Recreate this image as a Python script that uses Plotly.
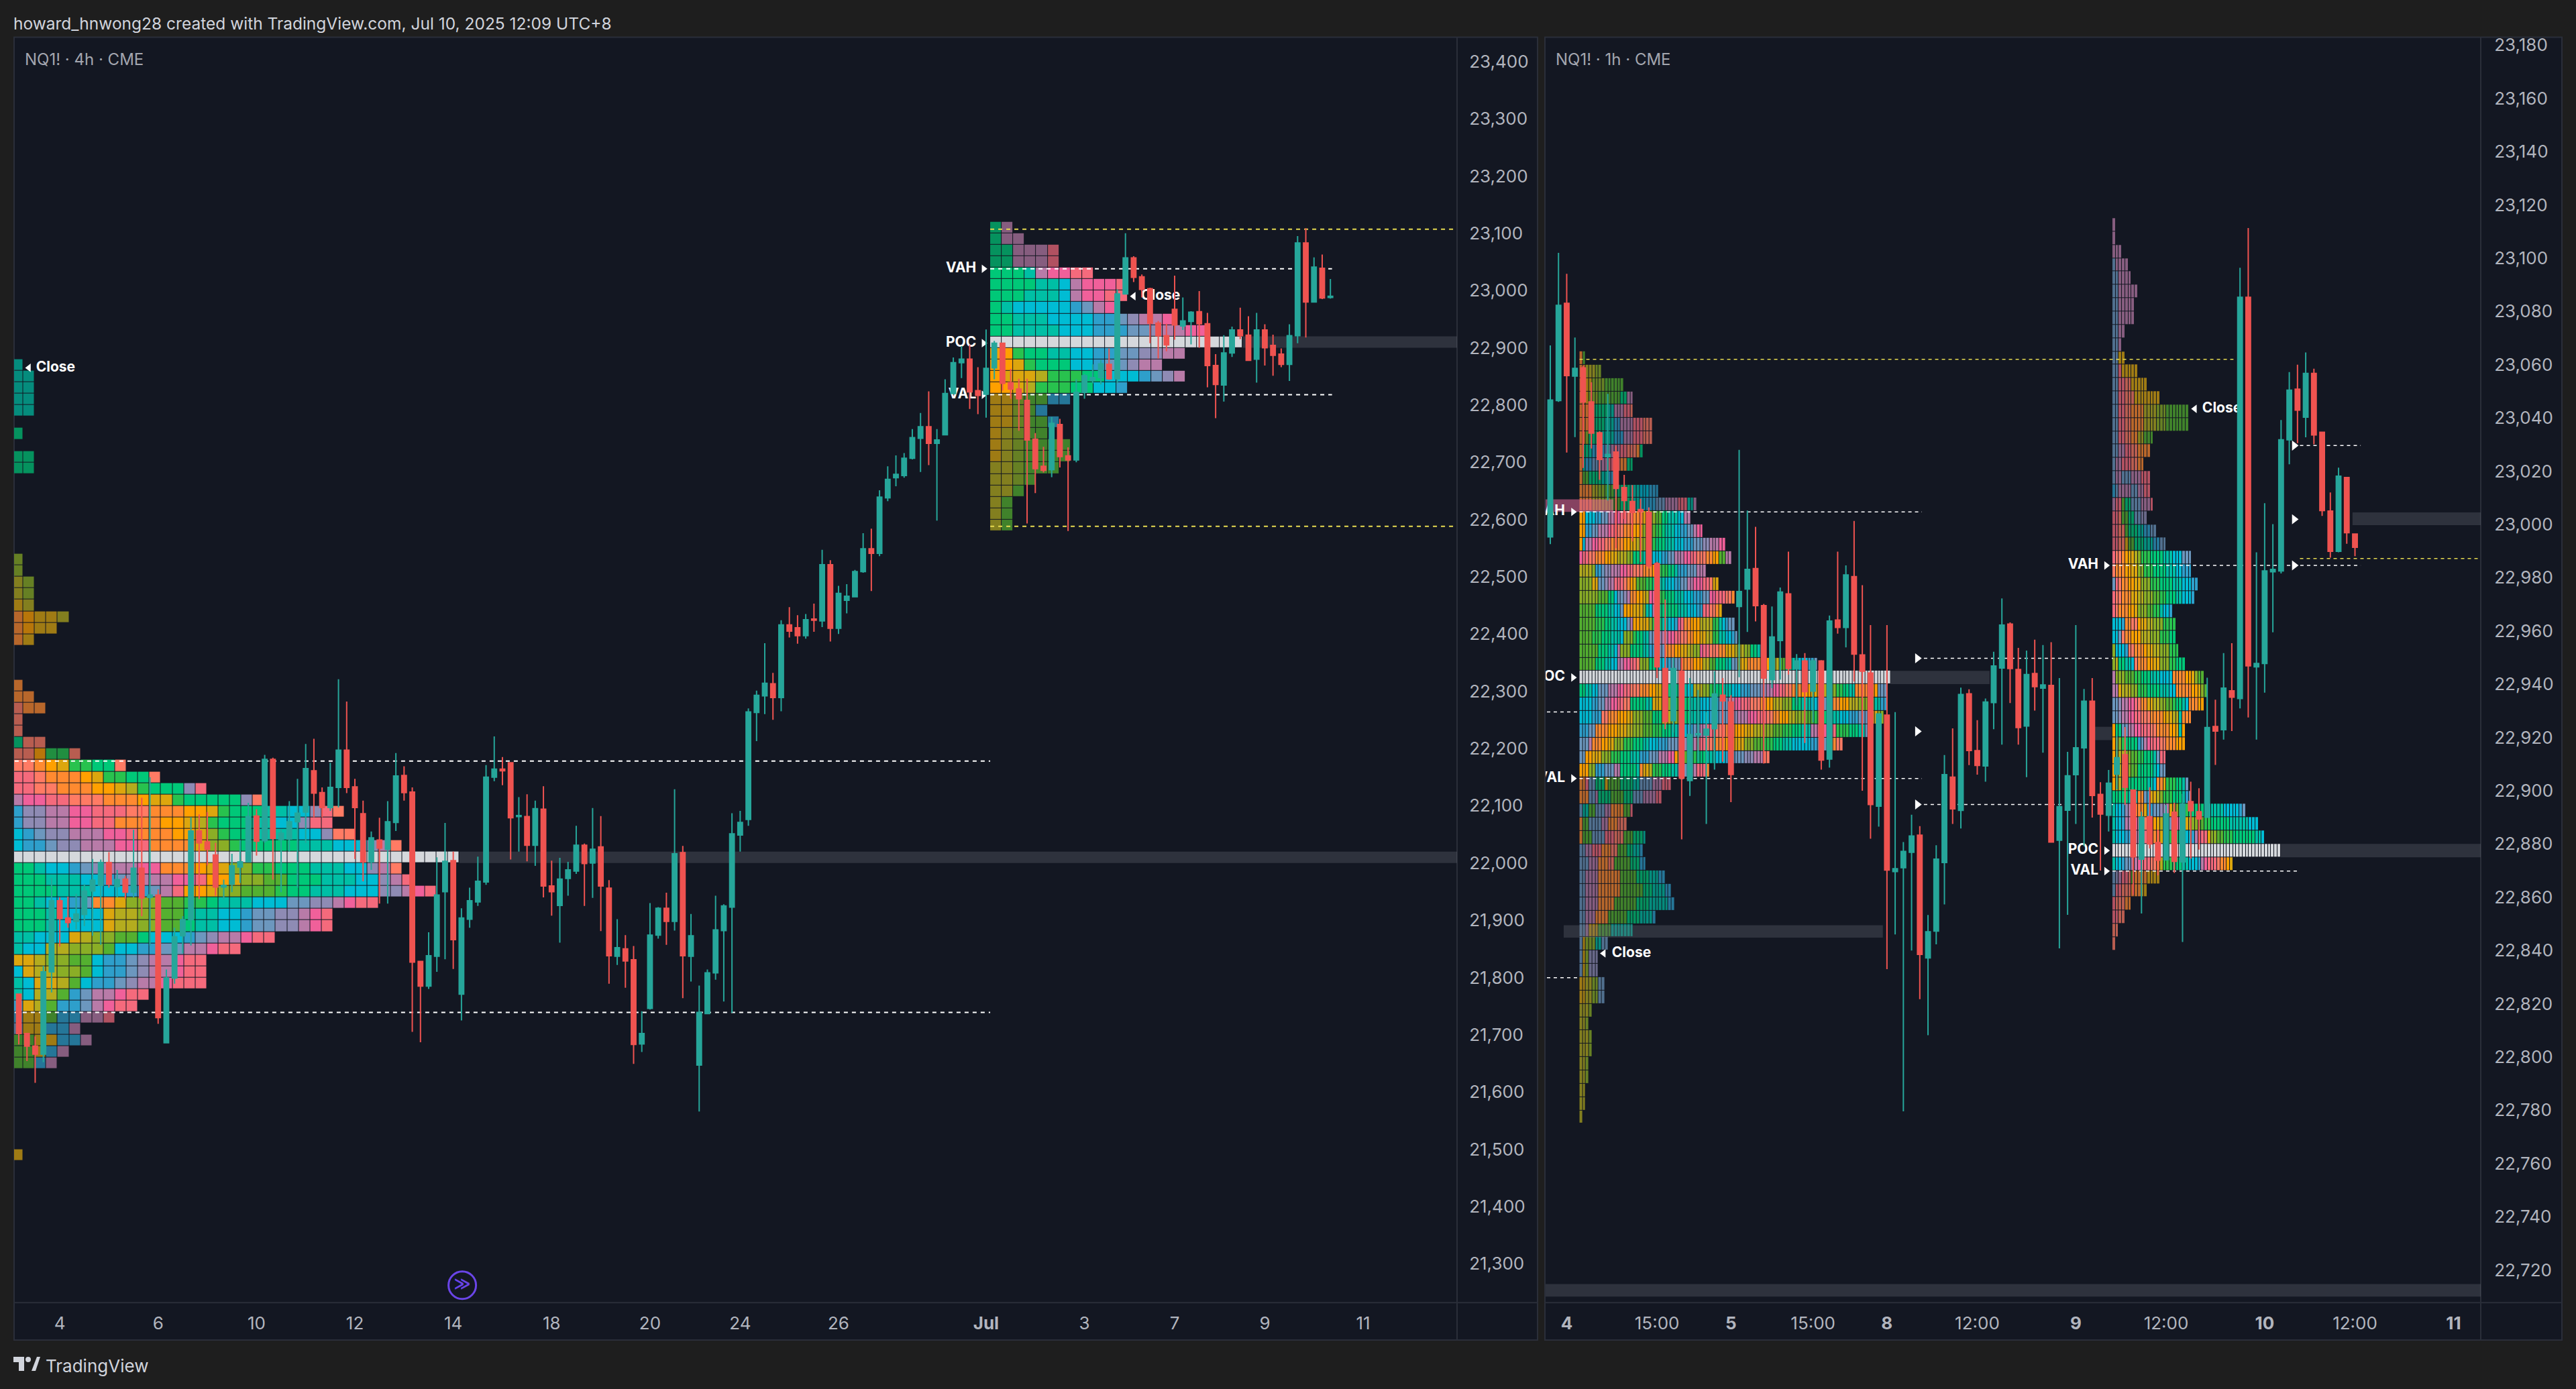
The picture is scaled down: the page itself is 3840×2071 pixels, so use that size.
import re
import plotly.graph_objects as go

W, H = 3840, 2071
BG = "#131722"
PAPER = "#1E1E1E"
UP = "#26A69A"
DOWN = "#EF5350"

# ---------- 4h chart candles ----------
L_DIR = ("rrrggrrggg" "grgrgrgrgg" "ggrrrggggr" "grggggrrgg" "rrrgrggrrr"
         "gggrgggggr" "rgrgrrgggr" "grrgrrgggr" "grgggggggg" "ggrgrrgrgr"
         "gggg" "rggggg" "grgggg" "rrggrrrrrr" "grrggggrgg" "rrrrrrggrr" "rgg" "rrgrrrgg" "rgrg")
L_TOP = [21771,21702,21680,21810,21934,21934,21904,21911,21951,21970,
         22001,22001,21971,21972,21991,21991,21944,21944,21799,21871,
         21901,22056,22056,22037,22014,21961,21995,22002,22081,22082,
         22181,22181,22052,22072,22087,22165,22161,22123,22132,22197,
         22197,22133,22086,22044,22040,22072,22152,22153,22124,21828,
         21838,21944,22003,22004,21904,21934,21968,22150,22164,22164,
         22175,22083,22081,22095,22094,21960,21972,21988,22031,22031,
         22024,22028,21956,21852,21850,21831,21702,21874,21921,21921,
         22016,22018,21873,21739,21808,21883,21925,22051,22071,22264,
         22293,22314,22313,22416,22416,22411,22425,22426,22521,22521,
         22471,22466,22509,22549,22549,22639,22670,22679,22707,22743,
         22762,22762,22739,22820,22874,22880,22880,22825,22864,22908,
         22908,22839,22828,22808,22740,22693,22768,22766,22711,22822,
         22851,22848,22872,22871,22994,23057,23057,23024,23003,22943,
         22921,22967,22947,22962,22963,22942,22869,22891,22931,22931,
         22922,22931,22931,22904,22889,22921,23083,23083,23041,23039,22990]
L_BOT = [21702,21680,21666,21666,21810,21903,21896,21898,21910,21951,
         21961,21963,21959,21949,21949,21939,21940,21730,21686,21799,
         21873,21901,22035,22024,21958,21958,21963,21993,22002,22038,
         22039,22043,22041,22042,22072,22089,22122,22097,22097,22132,
         22132,22097,22002,22002,22026,22024,22071,22123,21827,21785,
         21785,21837,21950,21866,21771,21902,21932,21967,22150,22161,
         22079,22081,22031,22031,21960,21950,21926,21973,21986,21999,
         22000,21960,21838,21837,21829,21683,21684,21746,21874,21898,
         21898,21838,21837,21647,21737,21808,21882,21923,22049,22076,
         22263,22292,22289,22289,22405,22397,22397,22424,22423,22410,
         22410,22459,22465,22509,22541,22541,22638,22673,22677,22707,
         22742,22733,22733,22748,22820,22874,22823,22817,22819,22865,
         22838,22828,22811,22739,22689,22686,22687,22710,22704,22704,
         22822,22843,22848,22846,22846,22994,23023,23002,22943,22921,
         22905,22940,22938,22946,22942,22869,22836,22835,22891,22921,
         22878,22880,22900,22887,22871,22871,22921,22980,22980,22987,22988]
L_HIGH = [21772,21703,21697,21820,21974,21940,21941,21946,21963,22007,
          22006,22019,21988,21977,22058,22114,22150,21954,21814,21887,
          21907,22080,22085,22089,22035,21971,22016,22040,22105,22094,
          22189,22184,22058,22108,22147,22208,22217,22132,22175,22321,
          22282,22147,22109,22055,22079,22108,22192,22169,22132,21829,
          21879,22010,22070,22020,21921,21957,22011,22171,22221,22185,
          22175,22115,22120,22109,22134,22004,22009,22002,22065,22034,
          22096,22082,21970,21902,21874,21855,21741,21930,21923,21948,
          22129,22030,21911,21786,21814,21943,21928,22087,22091,22270,
          22301,22384,22332,22424,22447,22433,22435,22453,22547,22529,
          22484,22487,22512,22576,22584,22651,22693,22712,22716,22758,
          22786,22824,22758,22845,22883,22903,22905,22866,22932,22912,
          22908,22863,22846,22846,22751,22727,22779,22776,22726,22845,
          22854,22871,22879,22899,23002,23100,23060,23028,23005,22947,
          22942,23026,22988,22964,22999,22961,22889,22922,22937,22970,
          22955,22961,22941,22923,22899,22941,23095,23109,23058,23063,23020]
L_LOW = [21683,21654,21616,21652,21774,21854,21887,21884,21890,21873,
         21857,21957,21940,21937,21940,21907,21856,21719,21685,21789,
         21842,21856,21937,21996,21943,21937,21949,21965,22001,22013,
         22035,21971,21949,22020,21957,22035,22080,22080,22091,22097,
         22122,22007,21968,21988,21929,21929,22056,22109,21705,21687,
         21780,21810,21832,21815,21725,21887,21925,21962,22143,22136,
         22006,22020,22003,21995,21940,21908,21861,21943,21981,21925,
         21939,21881,21789,21822,21782,21649,21670,21744,21868,21857,
         21882,21764,21793,21566,21736,21796,21758,21738,22020,22065,
         22213,22260,22250,22265,22394,22383,22392,22404,22412,22387,
         22400,22436,22465,22507,22475,22536,22632,22658,22673,22705,
         22683,22695,22598,22748,22819,22847,22793,22784,22778,22845,
         22825,22811,22755,22593,22646,22682,22674,22691,22580,22700,
         22811,22838,22836,22844,22838,22993,23015,22988,22908,22881,
         22894,22914,22931,22906,22900,22831,22777,22806,22884,22915,
         22878,22839,22869,22851,22866,22842,22908,22918,22979,22985,22986]

# ---------- 1h chart candles ----------
R_DIR = ("ggrgrrrgrr" "rrrrrgrggg" "grrggrrggr" "grgrgrgrrr" "grgggrgggr"
         "grrgggrrgr" "grggggrrgg" "rrgrrgrgrr" "grgrgrgggg" "grgrrrgrr")
R_TOP = [23046.7,23082.3,23083,23058.6,23058.8,23046,23034.4,23026.3,23027.2,23013.8,
         23008.6,23005.6,23004.5,22985.3,22945.9,22945.9,22944.9,22921.1,22921.4,22923.1,
         22936.3,22935.9,22933.3,22974.8,22983.1,22983.4,22969.5,22957.7,22974.6,22973.9,
         22948.7,22948.7,22948.7,22948.7,22963.7,22964.1,22981,22980.4,22951,22944.2,
         22928.8,22928.4,22870.7,22877.2,22883,22883.3,22847,22874.3,22906,22905.1,
         22936.1,22936.4,22915,22933.3,22946.8,22962.2,22962.6,22945.5,22943.6,22944,
         22939.7,22939.5,22894,22905.6,22916.1,22933.6,22933.6,22898.6,22902.8,22912.4,
         22913.5,22900.2,22890,22890.2,22880.5,22891.3,22891.9,22895,22895.9,22892.1,
         22923.7,22924.1,22938.5,22937.5,23085.3,23085.3,22947.8,22982.5,22983.1,23031.8,
         23050.4,23050.8,23056.7,23056.7,23034.6,23005,23018.1,23017.6,22996.4]
R_BOT = [22995.3,23046.5,23055.9,23055.7,23046,23034.3,23024.4,23025.4,23013.5,23009,
         23004.5,23004.8,22984.4,22946.5,22926,22926.3,22904.7,22903.8,22921,22920.9,
         22923.3,22933.7,22906.1,22969.2,22975.7,22969.5,22942.3,22941.7,22956.4,22945.9,
         22945.9,22937.2,22937.4,22911.5,22911.9,22961.3,22961.3,22951.3,22944.9,22894.8,
         22894.2,22870.2,22869.6,22871.1,22876.9,22838.5,22837.2,22847.3,22873,22893.2,
         22892.6,22915.1,22909.5,22909.3,22933.1,22946.1,22945.9,22923.7,22924.3,22939.1,
         22938.5,22880.7,22881.4,22892.7,22906,22916.1,22898.2,22891.2,22890.8,22906.2,
         22901.3,22875.2,22874.3,22880,22873.9,22874.1,22873.5,22873.3,22892.5,22889.4,
         22890,22922.4,22922.9,22935.1,22934.6,22946.9,22946.5,22947.8,22982.2,22982.5,
         23031.8,23042.9,23040.3,23033.6,23005.2,22989.9,22989.9,22996.9,22991.4]
R_HIGH = [23067.2,23102,23094.1,23070.2,23059.5,23053.4,23035,23049,23029.5,23018.6,
          23014.8,23009.7,23006.4,22985.9,22971.8,22950,22950,22942.3,22937.8,22929.5,
          22944.9,22942.3,22935.9,23028,23005.2,22999.1,22970.1,22969.2,22976.3,22989.8,
          22951.3,22951.7,22949.4,22949,22965.8,22989.8,22984.6,23001.3,22977.2,22962.2,
          22929,22962.2,22929.5,22880.7,22891,22886.7,22853.3,22879.5,22913.4,22923.4,
          22938.7,22938.1,22926.5,22934.6,22952.2,22972.2,22963.2,22953.6,22952.6,22956.7,
          22954.7,22955.8,22942.3,22914.6,22962.2,22938.2,22942.3,22903.2,22907.8,22920.6,
          22923.9,22900.5,22892.1,22901.3,22885.4,22894.6,22895.5,22898.8,22903.4,22900.9,
          22942.4,22934.2,22951.7,22955.4,23096.4,23111.3,22989.5,23008,23000.1,23039.2,
          23057.2,23060,23064.6,23058.5,23034.8,23012,23021.3,23017.8,22996.6]
R_LOW = [22992.6,23046,23027,23032.8,23021.2,23028.5,23016.7,23009,22991.1,23002,
         22993.6,22985.9,22983.4,22942.3,22923.1,22921.8,22881.7,22898,22910.9,22887.5,
         22907.9,22910.9,22895.7,22942.6,22959.6,22963.6,22910.2,22938.5,22941.7,22943.6,
         22932,22917.9,22925.6,22907.9,22908.7,22959,22953.8,22941,22900,22882,
         22886.5,22833,22846,22779.6,22840,22821.7,22808.2,22842.3,22857.3,22887.5,
         22885.8,22909.6,22906,22903.4,22923.1,22917.3,22932.9,22917.3,22905.1,22930.1,
         22914.3,22880.7,22840.8,22853.4,22887.5,22879.2,22889.9,22870,22884.7,22900.5,
         22894.6,22860.8,22853.9,22878.3,22868.2,22873.7,22869.1,22843.2,22874.5,22877.9,
         22890,22909.7,22919.2,22922.4,22930.9,22927.5,22919.2,22936.8,22959.5,22981.6,
         23022.6,23030.5,23032.7,23030.1,23003.2,22987.5,22989.5,22992.7,22988.1]

# ---------- volume profile colours: one letter per block, upper = value area, lower = dimmed ----------
PALETTE = {"G": "#00C878", "T": "#00BFA5", "C": "#00BCD4", "B": "#2E9FCB", "S": "#6C97BE",
           "V": "#8E8BB4", "M": "#B87BA8", "P": "#F0609A", "R": "#F56A7C", "K": "#FF7B64",
           "O": "#FF8A30", "A": "#FFA000", "Y": "#DCA60E", "L": "#B4AC1E", "H": "#8AAE26",
           "J": "#54B030", "E": "#28C24E", "W": "#D5D8DC"}

P1_PRICES = [22870, 22850, 22830, 22810, 22790, 22750, 22710, 22690, 22530, 22510, 22490, 22470, 22450,
             22430, 22410, 22390, 22310, 22290, 22270, 22250, 22230, 22210, 22190, 22170, 22150, 22130,
             22110, 22090, 22070, 22050, 22030, 22010, 21990, 21970, 21950, 21930, 21910, 21890, 21870,
             21850, 21830, 21810, 21790, 21770, 21750, 21730, 21710, 21690, 21670, 21650, 21490]
P1_ROWS = ["t", "tt", "tt", "tt", "tt", "g", "gg", "gg", "h", "h", "lh", "lh", "yl", "oayyl", "oayy", "oy",
           "o", "oo", "koo", "k", "k", "gkk", "kkaeek",
           "KKOAYEEGGK", "RRKOOOAYEEGGK", "RRKKOOOAAYLEGGGVR", "MPPRRKKKOOOAYYEGGGGGVK",
           "BVVMMPPRRRKKOOOAAYEGGGTTCCVRK", "BVVMMPPRROOOOAAYLEGGGTTCCVRR",
           "CBSVVMMMPPROOOAAYHEGGTTTTCCVKK", "CBBSVVMMMPPROOOOYHHEGGGGGTTTCCCVMK",
           "W" * 39, "GGTCCBSVMMMPPOOOAYYHHEEGGGTTTCCVMK", "GGGTTTCCBSVMMMPPRAAYHHJJGGGTTTCCVMR",
           "GGGGTTTCCCBBSMRAAYHHJJJEGGTTTCCCVVMPR", "GGTCCBSOOYHHHJJEEGTTTCCCSSVVMPRR",
           "GGGTCCCCYLLHHJJGTTCCBSSVVMPR", "GGGTCCCCYLLHHJJGTTCCBSSVVMPR", "TTCCCYLHHJJGCCCBSVMMPRR",
           "TCCLLHHHJCCBBSSMMPRR", "YYLHHJJCBBSVMMPRR", "CYLLHHJCBBSVMMPRR", "TCYYLJCBBSVMMPRRR",
           "TCLLJBSMMPRR", "BYLJBBSMPRR", "byyjbbmmr", "syybbm", "jjyybbm", "jjybm", "jjbm", "y"]

P2_PRICES = [23110, 23090, 23070, 23050, 23030, 23010, 22990, 22970, 22950, 22930, 22910, 22890, 22870,
             22850, 22830, 22810, 22790, 22770, 22750, 22730, 22710, 22690, 22670, 22650, 22630, 22610, 22590]
P2_ROWS = ["gm", "gmm", "ggmmmr", "ggmmmr", "GGGTMPPRR", "GGGGTTCMPPPR", "GGGTTTCMPPRR", "GTCCCCCBSMP",
           "GGTTTCCCCBBSVMMP", "GGTTTTCCCBBBSSVMMPP", "W" * 22, "AAEGGTTCCBBSSVVMM", "AAYEGGGCCBSSVMM",
           "AYYYLEEEGGCCCBSVM", "AAYLEEEGGCCB", "yyhjjbb", "yyhjb", "yyhjjb", "ylhjj", "ylhjjjj", "ylhjjjj",
           "llhjjj", "llhj", "llj", "lj", "lj", "lj"]

P3_PRICES = [23062.5 - 5 * k for k in range(58)]
P3_ROWS = ["o1j1", "o2l3h2", "o2y2h4j6", "o2y1h3j7g2m2", "o3g6t2m3r2k1", "o3g5t3b2m4r3k3", "o2h1g4t4b3m3r3k3",
           "o1g2t1b4s2m3r2k3o1g1", "o1t1b2s3m2r2k2o2g2", "o1j2g4t2b2", "o4l2h2j3g5t3c3b3",
           "o4l3h3j3g4t2c2b3s3m4r3t2m1",
           "A2C3B2S2M2P2R2K2O3Y2H2J2G2T3C2M2", "A2B2S2M3P1R2K2O3A2Y1H2J2E2G1T3C2B2S2M1P2",
           "A1C1M2P2R2K2O4A2Y2L2H2E2G3T3C3B3S3V2M3P2", "P1R2K2O3A2Y2L3H2G3T3C3B2S2M3P2R2K3O2A2J2M2",
           "L4H1B2S1V2M3P2R2K3O3A2E3G2T1B3S3M3", "H4Y2S2V1M2R3K1O1A1Y1J3E2G2T2C3B2S2M2P3R2K1Y2",
           "H6J3G2C1S2V1M1O2A2Y1L1P2R1E2G3T3C3B3S2P2R3K2O1", "J5G4T2C2S1A3Y3H1T1C1M1P1G6T3C3B2R2K2O1Y1",
           "J5E3G2T2C3S1M1A2Y3H1E1G2T2C2B1P1R1O2A3L4E2T1C1B1S2", "J4E3G3T3C1H3E1G2T2S2V2M2P2R2K2O2A2Y2L2E2T2C2B1S1",
           "J6G3T2C1M1H3G4T2B3S2O3A2Y2L2H2P1R2K3O2Y3L3H2G2T1S1",
           "J5G3T2C2M2P2R2K1H3G3C2B2S3O4A3L2J2G3T2S2Y3O4A4L2J2G2T2C3B2S1",
           "W98", "G2T2C2S3M3P2R2K3O3A2Y2H2G3T3C2L3H2E2G2T3C3B3S3V2M2P2R2K2O3A3Y3L3H2E2G2T2O4A3S3",
           "C4B2S2M2P2R2K2G5T2Y3H3E3G3T3C3B3S3M2P2R3K3O2A2L3H3G3T3C2B2S3O2A3L3H3E2T2B2",
           "C4B3K2O3A3Y2H3J3G3L3H3G3T3C3B3S3V3M3P3R3K2O2A3L2H3J3E3G2T3C3B3S3Y3H2",
           "B3S2O4A3Y3L2H3J3E3G3T2C3B2S2M2R3K3O3A3Y3L3H3J3E3G3T3M2P3R3E4G3T2S1",
           "S3M1O3A2Y2H3E3G3T2C3B3S3V3M3R3K3O3A3Y3H3J3E3G3T3C3C3B3S3O2K2",
           "S2A2Y3H3E3G3T3B3S3M3P2A1H2J2E2G3T3C3B3S3V3M3K2", "A3H2B3S3M2G5T1O1Y2L1E3G3T2S3M3R3O1",
           "o2r1s2g3y1j4g4t2s4m3r3", "o3s2m1g4j4g3s3m4r2", "s1t2j2s3m2o4j2r1", "o1j2s4m2o3k3", "o1j3s4r3k3j3g3t1",
           "s2m2r3o3k2j3g2t2b1", "s3m3o3k2j5g3b2", "s2m4o7j5g4t3b2", "s2m4o7j7g3t4b2", "s2m4o5j7g4t6b2",
           "s2m3o4j6g4t4b1", "s2m1y3j4t7", "s1y1h3t2s2", "s1y1h1v3", "s1y1h1v3", "y2l2h2s2", "y2l2h2s2",
           "l3h1", "l2h1", "l3h1", "l3h1", "l2h1", "l2h1", "l2", "l2", "l1"]

P4_PRICES = [23112.5 - 5 * k for k in range(55)]
P4_ROWS = ["m1", "m1", "m3", "s1m4", "s2m4", "s2m6", "s2m5", "s2m5", "s2m2", "s2m1", "s2y2", "s2r1y5",
           "s2r2k2y5", "s2r2k3y8", "s2r2k2o4l4h3j7", "s2r2k2o4l4h3j7", "s2r2k2o2l2j3", "s2m2r2k2o4",
           "s1m2r3k2o2", "s1m2s3m3r3", "b1s1m4s2m2r2", "m1r2j1g2s3m3r1", "r2k1j2g2s2v2", "r2k2j1g3t2b2s2",
           "r2k2y1j2g3t3b2s2",
           "R1K2O1A1Y2L1H1E3G4T3C3S3", "K1O3A2Y2H2E3G4T3C2B3", "S1R1K1O2A2Y2H3E3G4T3C3B2",
           "R1K2O3Y2L2H3J2E2G3T2C3B1", "R1K1O3A2Y1H3J2E2T1C2B1", "C3B1O2K2A1Y2L2H3E4", "C2S1K1O2A3L3H3E3G2",
           "H1C3B1K2O3A1Y2L2H3E3", "H1L1G2T2C1K1O3A2Y2H3E2G3", "M1H3J3E2G3T3C4O4A2Y1H1J2",
           "M2Y1L3H2E3G4T3C2O5A2Y1H1J1", "S2V1M2P2R1K1O2Y2L2H2J2E1G2T1C1O3A2", "S2V1M2P2R2K3O4A1Y2L2T1O3",
           "A1G2S2M2P2R3K2O4A2Y1T1A1", "A1Y1H1E1G4B1S1M1P1R3K2O3A3", "A1L3H2J2E2G3T1S1R2", "A1L3H2J2G5T1C1S2",
           "A1L2E2G6T2C1O2Y1E3G2T1S1", "G5T3O2S1B1Y2L1H1E3G3T1B1S1",
           "T1C2B1V1M1R1O3Y1B2S2V2M1Y1H2E3G6T5C5B1S1",
           "T1C2B1M2P2R2K1O2A1Y1L2B1S1M1P2A1Y1L1H2J2E2G6T6C3",
           "T1C3B2S1M1P2R2K1O2Y1H1E2G3T1C2B1M1P1R2Y1H2J2E3G7T2C1",
           "W53", "T1C2B1S2M2P1R3K2O1L1E3G3T2C3B1M1P1R3K1O2A1Y1", "s1v1m1r2k1j1o4y4", "s1r2k3o3y2", "r1k3o2",
           "r2k2", "k2", "k1"]

# ---------- levels ----------
L_X_TICKS = [5, 17, 29, 41, 53, 65, 77, 88, 100, 118, 130, 141, 152, 164]
L_X_LABELS = ["4", "6", "10", "12", "14", "18", "20", "24", "26", "<b>Jul</b>", "3", "7", "9", "11"]
R_X_TICKS = [2, 13, 22, 32, 41, 52, 64, 75, 87, 98, 110]
R_X_LABELS = ["<b>4</b>", "15:00", "<b>5</b>", "15:00", "<b>8</b>", "12:00", "<b>9</b>", "12:00", "<b>10</b>",
              "12:00", "<b>11</b>"]
L_Y_TICKS = list(range(21300, 23401, 100))
R_Y_TICKS = list(range(22720, 23181, 20))


def px_x(v):
    return v / W


def px_y(v):
    return 1 - (v - (3.5 - 2.5 * v / H)) / H


def mix(hexcol, a=0.7):
    r, g, b = [int(hexcol[i:i + 2], 16) for i in (1, 3, 5)]
    bg = (19, 23, 34)
    return "rgb(%d,%d,%d)" % (a * r + (1 - a) * bg[0], a * g + (1 - a) * bg[1], a * b + (1 - a) * bg[2])


KEYS = list(PALETTE) + [k.lower() for k in PALETTE]
COLOURS = list(PALETTE.values()) + [mix(c) for c in PALETTE.values()]
INDEX = {k: i for i, k in enumerate(KEYS)}
SCALE = []
for i, c in enumerate(COLOURS):
    SCALE.append([i / (len(COLOURS) - 1), c])


def expand(s):
    return "".join(m.group(1) * int(m.group(2) or 1) for m in re.finditer(r"([A-Za-z])(\d*)", s))


def profile(prices, rows, start, width, step, xa, ya):
    cells = {p: expand(s) for p, s in zip(prices, rows)}
    top, low = max(prices), min(prices)
    n = int(round((top - low) / step)) + 1
    ys = [low + k * step for k in range(n)]
    cols = max(len(v) for v in cells.values())
    z = []
    for y in ys:
        row = cells.get(y, "")
        z.append([INDEX[row[k]] if k < len(row) else None for k in range(cols)])
    xs = [start + (k + 0.5) * width for k in range(cols)]
    return go.Heatmap(x=xs, y=ys, z=z, colorscale=SCALE, zmin=0, zmax=len(COLOURS) - 1, showscale=False,
                      xgap=1, ygap=1, hoverinfo="skip", xaxis=xa, yaxis=ya)


def band(x0, x1, y0, y1, colour, xa, ya):
    return go.Scatter(x=[x0, x1, x1, x0, x0], y=[y0, y0, y1, y1, y0], mode="lines", line=dict(width=0),
                      fill="toself", fillcolor=colour, hoverinfo="skip", showlegend=False, xaxis=xa, yaxis=ya)


def level(x0, x1, y, colour, dash, width, xa, ya):
    return go.Scatter(x=[x0, x1], y=[y, y], mode="lines", line=dict(color=colour, dash=dash, width=width),
                      hoverinfo="skip", showlegend=False, xaxis=xa, yaxis=ya)


def label(x, y, text, pos, xa, ya, colour="#FFFFFF"):
    return go.Scatter(x=[x], y=[y], mode="text", text=["<b>%s</b>" % text], textposition=pos,
                      textfont=dict(family="Inter", size=21, color=colour), cliponaxis=True,
                      hoverinfo="skip", showlegend=False, xaxis=xa, yaxis=ya)


def arrow(x, y, symbol, xa, ya, size=11):
    return go.Scatter(x=[x], y=[y], mode="markers", marker=dict(symbol=symbol, size=size, color="#FFFFFF"),
                      hoverinfo="skip", showlegend=False, xaxis=xa, yaxis=ya)


def candles(top, bot, high, low, dirs, xa, ya):
    opens = [b if d == "g" else t for t, b, d in zip(top, bot, dirs)]
    closes = [t if d == "g" else b for t, b, d in zip(top, bot, dirs)]
    return go.Candlestick(x=list(range(len(top))), open=opens, high=high, low=low, close=closes,
                          increasing=dict(line=dict(color=UP, width=2), fillcolor=UP),
                          decreasing=dict(line=dict(color=DOWN, width=2), fillcolor=DOWN),
                          whiskerwidth=0, hoverinfo="skip", showlegend=False, xaxis=xa, yaxis=ya)


WHITE_DASH = "6px,6px"
GREY = "rgba(120,123,134,0.28)"
YEL = "#E6DA50"

traces = []
# --- left chart base layer
traces += [profile(P1_PRICES, P1_ROWS, -0.86, 1.4, 20, "x", "y"),
           profile(P2_PRICES, P2_ROWS, 118.5, 1.4, 20, "x", "y"),
           band(53.74, 175.5, 22000, 22020, GREY, "x", "y"),
           band(149.3, 175.5, 22900, 22920, GREY, "x", "y"),
           level(-0.5, 118.5, 22178, "#FFFFFF", WHITE_DASH, 2, "x", "y"),
           level(-0.5, 118.5, 21739, "#FFFFFF", WHITE_DASH, 2, "x", "y"),
           level(118.5, 160.2, 23038, "#FFFFFF", WHITE_DASH, 2, "x", "y"),
           level(118.5, 160.2, 22818, "#FFFFFF", WHITE_DASH, 2, "x", "y"),
           level(118.5, 175.5, 23107, YEL, WHITE_DASH, 2, "x", "y"),
           level(118.5, 175.5, 22588, YEL, WHITE_DASH, 2, "x", "y")]
traces += [label(116.8, 23038, "VAH", "middle left", "x", "y"), arrow(117.7, 23038, "triangle-right", "x", "y"),
           label(116.8, 22908, "POC", "middle left", "x", "y"), arrow(117.7, 22908, "triangle-right", "x", "y"),
           label(116.8, 22818, "VAL", "middle left", "x", "y"), arrow(117.7, 22818, "triangle-right", "x", "y"),
           label(136.9, 22990, "Close", "middle right", "x", "y"), arrow(136, 22990, "triangle-left", "x", "y"),
           label(2.1, 22865, "Close", "middle right", "x", "y"), arrow(1.23, 22865, "triangle-left", "x", "y")]
# --- right chart base layer
traces += [profile(P3_PRICES, P3_ROWS, 3.56, 0.3864, 5, "x3", "y3"),
           profile(P4_PRICES, P4_ROWS, 68.46, 0.3864, 5, "x3", "y3"),
           band(-0.6, 7.68, 23004.7, 23009.4, "rgba(250,110,160,0.5)", "x3", "y3"),
           band(1.63, 40.5, 22844.8, 22849.5, GREY, "x3", "y3"),
           band(-0.6, 113.4, 22710, 22714.7, GREY, "x3", "y3"),
           band(41.43, 53.5, 22940, 22945, GREY, "x3", "y3"),
           band(88.94, 113.4, 22875, 22880, GREY, "x3", "y3"),
           band(97.7, 113.4, 22999.7, 23004.5, GREY, "x3", "y3"),
           band(66.3, 68.4, 22919, 22924, GREY, "x3", "y3"),
           level(3.56, 83.2, 23062, YEL, "5px,5px", 1.5, "x3", "y3"),
           level(91.3, 113.3, 22987.2, YEL, "5px,5px", 1.5, "x3", "y3"),
           level(3.56, 45.26, 23004.7, "#FFFFFF", "5px,5px", 1.5, "x3", "y3"),
           level(3.56, 45.26, 22904.6, "#FFFFFF", "5px,5px", 1.5, "x3", "y3"),
           level(-0.41, 3.35, 22929.6, "#FFFFFF", "5px,5px", 1.5, "x3", "y3"),
           level(-0.41, 3.35, 22829.8, "#FFFFFF", "5px,5px", 1.5, "x3", "y3"),
           level(45.5, 68.55, 22949.7, "#FFFFFF", "5px,5px", 1.5, "x3", "y3"),
           level(45.5, 68.55, 22894.8, "#FFFFFF", "5px,5px", 1.5, "x3", "y3"),
           level(68.46, 98.7, 22984.6, "#FFFFFF", "5px,5px", 1.5, "x3", "y3"),
           level(68.46, 91.3, 22869.8, "#FFFFFF", "5px,5px", 1.5, "x3", "y3"),
           level(91.3, 98.7, 23029.6, "#FFFFFF", "5px,5px", 1.5, "x3", "y3")]
for name, y in (("VAH", 23004.7), ("POC", 22942.5), ("VAL", 22904.6)):
    traces += [label(1.8, y, name, "middle left", "x3", "y3"), arrow(2.78, y, "triangle-right", "x3", "y3")]
for name, y in (("VAH", 22984.6), ("POC", 22877.5), ("VAL", 22869.8)):
    traces += [label(66.75, y, name, "middle left", "x3", "y3"), arrow(67.7, y, "triangle-right", "x3", "y3")]
traces += [label(7.5, 22838.9, "Close", "middle right", "x3", "y3"), arrow(6.5, 22838.9, "triangle-left", "x3", "y3"),
           label(79.4, 23043.4, "Close", "middle right", "x3", "y3"), arrow(78.5, 23043.4, "triangle-left", "x3", "y3")]
for y in (22949.7, 22922.3, 22894.8):
    traces.append(arrow(44.7, y, "triangle-right", "x3", "y3", 13))
for y in (23029.6, 23001.9, 22984.6):
    traces.append(arrow(90.6, y, "triangle-right", "x3", "y3", 13))

# --- candles on overlay axes so they sit above profiles, levels and labels
traces.append(candles(L_TOP, L_BOT, L_HIGH, L_LOW, L_DIR, "x2", "y2"))
traces.append(candles(R_TOP, R_BOT, R_HIGH, R_LOW, R_DIR, "x4", "y4"))
# --- session-break icon
traces.append(go.Scatter(x=[54.1], y=[21262.5], mode="markers+text", text=["<b>≫</b>"], textposition="middle center",
                         textfont=dict(family="DejaVu Sans", size=24, color="#6A45E8"),
                         marker=dict(symbol="circle", size=41, color=BG, line=dict(color="#6A45E8", width=3)),
                         hoverinfo="skip", showlegend=False, xaxis="x2", yaxis="y2"))

fig = go.Figure(traces)

PLOT_T, PLOT_B = 55, 1943
L_DOM = [px_x(21), px_x(2172)]
R_DOM = [px_x(2304), px_x(3698)]
Y_DOM = [px_y(PLOT_B), px_y(PLOT_T)]
L_XR = [(21 - 28) / 12.22, (2172 - 28) / 12.22]
R_XR = [(2304 - 2311) / 12.24, (3698 - 2311) / 12.24]
L_YR = [23400 - (PLOT_B - 89.4) / 0.855, 23400 + (89.4 - PLOT_T) / 0.855]
R_YR = [23100 - (PLOT_B - 383) / 3.977, 23100 + (383 - PLOT_T) / 3.977]
TICK = dict(family="Inter", size=26, color="#B2B5BE")


def rect(x0, y0, x1, y1, fill=None, line=None):
    return dict(type="rect", xref="paper", yref="paper", x0=px_x(x0), x1=px_x(x1), y0=px_y(y1), y1=px_y(y0),
                fillcolor=fill or "rgba(0,0,0,0)", line=dict(color=line or "rgba(0,0,0,0)", width=2 if line else 0),
                layer="below")


def poly(points, fill):
    d = "M" + " L".join("%f,%f" % (px_x(a), px_y(b)) for a, b in points) + " Z"
    return dict(type="path", xref="paper", yref="paper", path=d, fillcolor=fill, line=dict(width=0), layer="above")


shapes = [rect(21, 53, 2292, 1999, BG, "#2A2E39"), rect(2303, 53, 3819, 1999, BG, "#2A2E39"),
          rect(2171, 53, 2173, 1999, "#2A2E39"), rect(3697, 53, 3699, 1999, "#2A2E39"),
          rect(21, 1942, 2292, 1944, "#2A2E39"), rect(2303, 1942, 3819, 1944, "#2A2E39"),
          poly([(20, 2024), (36, 2024), (36, 2045), (28, 2045), (28, 2032), (20, 2032)], "#D1D4DC"),
          poly([(47, 2045), (55, 2024), (60, 2024), (53, 2045)], "#D1D4DC"),
          dict(type="circle", xref="paper", yref="paper", x0=px_x(38), x1=px_x(46), y0=px_y(2032), y1=px_y(2024),
               fillcolor="#D1D4DC", line=dict(width=0), layer="above")]


def header(x, y, text, size, colour):
    return dict(xref="paper", yref="paper", x=px_x(x), y=px_y(y), text=text, showarrow=False, xanchor="left",
                yanchor="middle", font=dict(family="Inter", size=size, color=colour))


fig.update_layout(
    width=W, height=H, margin=dict(l=0, r=0, t=0, b=0), paper_bgcolor=PAPER, plot_bgcolor=BG,
    showlegend=False, boxgap=0.2, shapes=shapes, dragmode=False,
    annotations=[header(18, 33, "howard_hnwong28 created with TradingView.com, Jul 10, 2025 12:09 UTC+8", 24.5, "#D1D4DC"),
                 header(35, 86, "NQ1! · 4h · CME", 24, "#A3A6AF"),
                 header(2317, 86, "NQ1! · 1h · CME", 24, "#A3A6AF"),
                 header(66, 2037, "TradingView", 26, "#D1D4DC")],
    xaxis=dict(domain=L_DOM, range=L_XR, tickvals=L_X_TICKS, ticktext=L_X_LABELS, tickfont=TICK, showgrid=False,
               zeroline=False, ticks="outside", ticklen=8, tickcolor="rgba(0,0,0,0)", showline=False, anchor="y",
               tickangle=0),
    yaxis=dict(domain=Y_DOM, range=L_YR, tickvals=L_Y_TICKS, tickformat=",", tickfont=TICK, showgrid=False,
               zeroline=False, side="right", ticks="outside", ticklen=12, tickcolor="rgba(0,0,0,0)", anchor="x"),
    xaxis2=dict(domain=L_DOM, range=L_XR, overlaying="x", visible=False, rangeslider=dict(visible=False), anchor="y2"),
    yaxis2=dict(domain=Y_DOM, range=L_YR, overlaying="y", visible=False, anchor="x2"),
    xaxis3=dict(domain=R_DOM, range=R_XR, tickvals=R_X_TICKS, ticktext=R_X_LABELS, tickfont=TICK, showgrid=False,
                zeroline=False, ticks="outside", ticklen=8, tickcolor="rgba(0,0,0,0)", anchor="y3", tickangle=0),
    yaxis3=dict(domain=Y_DOM, range=R_YR, tickvals=R_Y_TICKS, tickformat=",", tickfont=TICK, showgrid=False,
                zeroline=False, side="right", ticks="outside", ticklen=14, tickcolor="rgba(0,0,0,0)", anchor="x3"),
    xaxis4=dict(domain=R_DOM, range=R_XR, overlaying="x3", visible=False, rangeslider=dict(visible=False), anchor="y4"),
    yaxis4=dict(domain=Y_DOM, range=R_YR, overlaying="y3", visible=False, anchor="x4"),
)

fig.write_html("out.html", config=dict(displayModeBar=False),
               post_script="document.body.style.margin='0';document.body.style.background='#1E1E1E';document.body.style.overflow='hidden';")
